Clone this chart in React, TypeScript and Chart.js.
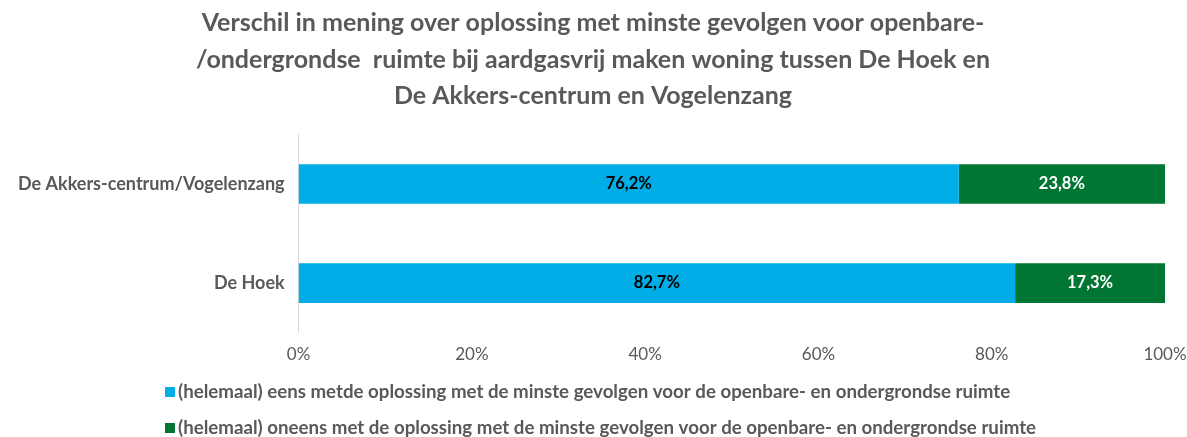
import React, { useEffect, useRef } from "react";
import { Chart, registerables } from "chart.js";

Chart.register(...registerables);

const categories = ["De Akkers-centrum/Vogelenzang", "De Hoek"];
const seriesLabels = [
  "(helemaal) eens metde oplossing met de minste gevolgen voor de openbare- en ondergrondse ruimte",
  "(helemaal) oneens met de oplossing met de minste gevolgen voor de openbare- en ondergrondse ruimte",
];
const eensValues = [76.2, 82.7];
const oneensValues = [23.8, 17.3];
const seriesColors = ["#00ADE6", "#007632"];
const labelColors = ["#000000", "#FFFFFF"];
const xTicks = [0, 20, 40, 60, 80, 100];
const titleLines = [
  "Verschil in mening over oplossing met minste gevolgen voor openbare-",
  "/ondergrondse  ruimte bij aardgasvrij maken woning tussen De Hoek en",
  "De Akkers-centrum en Vogelenzang",
];

const FONT = "Lato, 'Open Sans', sans-serif";
const GREY = "#595959";

const dataLabelPlugin = {
  id: "dataLabels",
  afterDatasetsDraw(chart: any) {
    const ctx = chart.ctx;
    ctx.save();
    ctx.font = `bold 16.5px ${FONT}`;
    ctx.textAlign = "center";
    ctx.textBaseline = "middle";
    chart.data.datasets.forEach((ds: any, di: number) => {
      const meta = chart.getDatasetMeta(di);
      meta.data.forEach((bar: any, i: number) => {
        const v = ds.data[i];
        const x = (bar.x + bar.base) / 2;
        ctx.fillStyle = labelColors[di];
        ctx.fillText(v.toFixed(1).replace(".", ",") + "%", x, bar.y);
      });
    });
    ctx.restore();
  },
};

const legendPlugin = {
  id: "customLegend",
  afterDraw(chart: any) {
    const ctx = chart.ctx;
    ctx.save();
    ctx.font = `bold 18.7px ${FONT}`;
    ctx.textBaseline = "middle";
    const x0 = 165;
    const ys = [392, 428];
    chart.data.datasets.forEach((ds: any, di: number) => {
      const y = ys[di];
      ctx.fillStyle = ds.backgroundColor;
      ctx.fillRect(x0, y - 5, 10, 10);
      ctx.fillStyle = GREY;
      ctx.textAlign = "left";
      ctx.fillText(ds.label, x0 + 13, y);
    });
    ctx.restore();
  },
};

export default function App() {
  const ref = useRef<HTMLCanvasElement>(null);
  useEffect(() => {
    if (!ref.current) return;
    const chart = new Chart(ref.current, {
      type: "bar",
      data: {
        labels: categories,
        datasets: [
          {
            label: seriesLabels[0],
            data: eensValues,
            backgroundColor: seriesColors[0],
            barPercentage: 0.8,
            categoryPercentage: 0.5,
          },
          {
            label: seriesLabels[1],
            data: oneensValues,
            backgroundColor: seriesColors[1],
            barPercentage: 0.8,
            categoryPercentage: 0.5,
          },
        ],
      },
      options: {
        indexAxis: "y",
        responsive: true,
        maintainAspectRatio: false,
        animation: false,
        layout: { padding: { top: 5, right: 5, bottom: 60, left: 4 } },
        plugins: {
          legend: { display: false },
          tooltip: { enabled: false },
          title: {
            display: true,
            text: titleLines,
            color: GREY,
            font: { family: FONT, size: 25, weight: "bold", lineHeight: 1.46 },
            padding: { top: 0, bottom: 20 },
          },
        },
        scales: {
          x: {
            stacked: true,
            min: 0,
            max: 100,
            afterBuildTicks: (axis: any) => {
              axis.ticks = xTicks.map((v) => ({ value: v }));
            },
            afterFit: (axis: any) => {
              axis.paddingRight = 22;
            },
            ticks: {
              color: GREY,
              font: { family: FONT, size: 17 },
              callback: (v: any) => v + "%",
              padding: 12,
            },
            grid: { display: false, drawTicks: false },
            border: { display: false },
          },
          y: {
            stacked: true,
            ticks: {
              color: GREY,
              font: { family: FONT, size: 18, weight: "bold" },
              padding: 14,
            },
            grid: { display: false, drawTicks: false },
            border: { display: true, color: "#D9D9D9", width: 1 },
          },
        },
      },
      plugins: [dataLabelPlugin, legendPlugin],
    });
    return () => chart.destroy();
  }, []);
  return (
    <div style={{ position: "fixed", left: 0, top: 0, width: 1187, height: 437, background: "#fff" }}>
      <canvas ref={ref} />
    </div>
  );
}
